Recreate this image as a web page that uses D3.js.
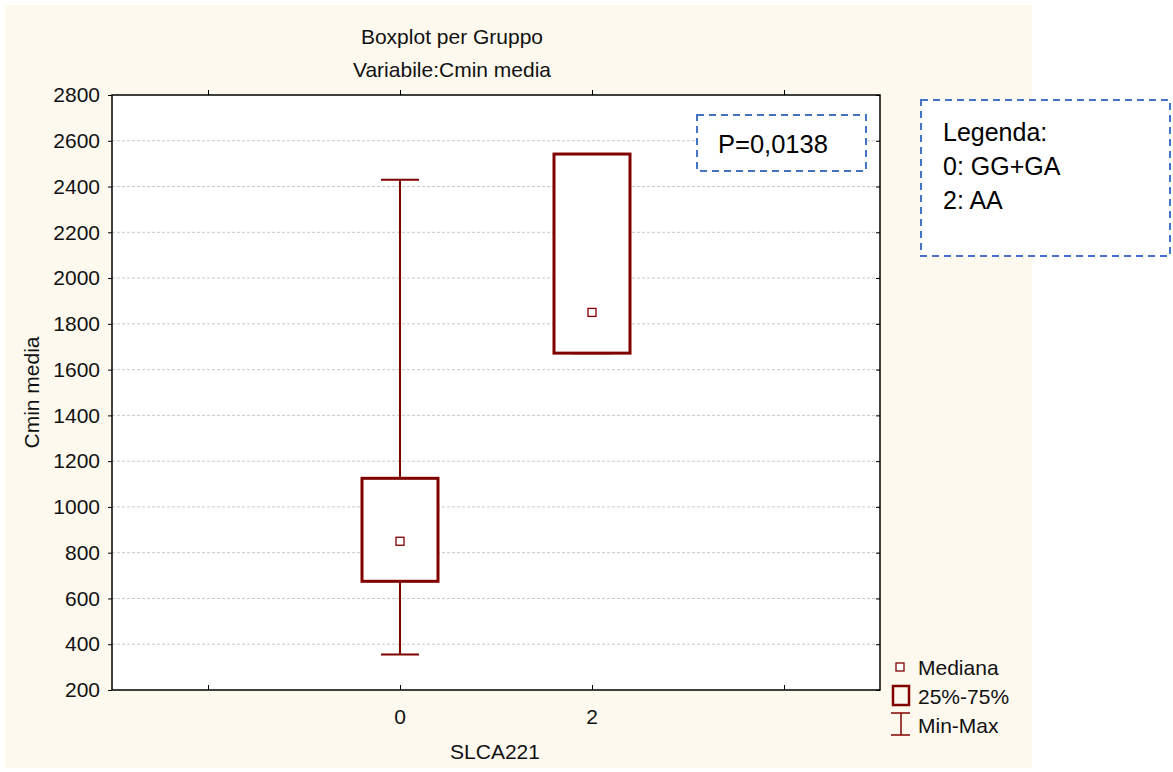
<!DOCTYPE html>
<html>
<head>
<meta charset="utf-8">
<script src="https://cdnjs.cloudflare.com/ajax/libs/d3/7.8.5/d3.min.js"></script>
<style>
  body { margin: 0; background: #fff; }
  svg text { font-family: "Liberation Sans", Arial, sans-serif; }
</style>
</head>
<body>
<svg></svg>
<script>
var width = 1173;
var height = 772;

// data
var groups = ["0", "2"];
var mins = [355, 1672];
var q1s = [675, 1672];
var medians = [850, 1850];
var q3s = [1125, 2542];
var maxs = [2430, 2542];
var yTicks = [200, 400, 600, 800, 1000, 1200, 1400, 1600, 1800, 2000, 2200, 2400, 2600, 2800];
var xSlots = ["a", "0", "2", "b"];
var legendLines = ["Legenda:", "0: GG+GA", "2: AA"];
var keyLabels = ["Mediana", "25%-75%", "Min-Max"];
var pText = "P=0,0138";

var red = "#800000";
var blue = "#4472C4";
var fs = 21;

var svg = d3.select('svg')
            .attr('width', width)
            .attr('height', height);

svg.append("rect")
   .attr("x", 5).attr("y", 5)
   .attr("width", 1027).attr("height", 763)
   .attr("fill", "#fef9ef");

var pLeft = 112, pRight = 880, pTop = 95, pBottom = 690;

svg.append("rect")
   .attr("x", pLeft).attr("y", pTop)
   .attr("width", pRight - pLeft).attr("height", pBottom - pTop)
   .attr("fill", "#fff");

var y = d3.scaleLinear().domain([200, 2800]).range([pBottom, pTop]);
var x = d3.scalePoint().domain(xSlots).range([pLeft, pRight]).padding(0.5);

// grid
svg.append("g")
   .selectAll("line")
   .data(yTicks.slice(1, -1))
   .enter()
   .append("line")
   .attr("x1", pLeft).attr("x2", pRight)
   .attr("y1", d => y(d)).attr("y2", d => y(d))
   .attr("stroke", "#c8c8c8")
   .attr("stroke-dasharray", "3,2")
   .attr("stroke-width", 1);

// axes
var yAxis = d3.axisLeft(y).tickValues(yTicks).tickSize(4).tickPadding(8).tickFormat(d3.format("d"));
var gy = svg.append("g").attr("transform", "translate(" + pLeft + ",0)").call(yAxis);
gy.select(".domain").remove();
gy.selectAll("text").attr("font-size", fs).attr("fill", "#111").attr("font-family", "Liberation Sans, Arial");
gy.selectAll("line").attr("stroke", "#000");

var yAxisR = d3.axisLeft(y).tickValues(yTicks).tickSize(4).tickFormat("");
var gyr = svg.append("g").attr("transform", "translate(" + pRight + ",0)").call(yAxisR);
gyr.select(".domain").remove();

var xAxis = d3.axisTop(x).tickSize(5).tickFormat("");
var gx = svg.append("g").attr("transform", "translate(0," + pBottom + ")").call(xAxis);
gx.select(".domain").remove();
var xAxisT = d3.axisTop(x).tickSize(5).tickFormat("");
var gxt = svg.append("g").attr("transform", "translate(0," + pTop + ")").call(xAxisT);
gxt.select(".domain").remove();

svg.append("g")
   .selectAll("text")
   .data(groups)
   .enter()
   .append("text")
   .attr("x", d => x(d))
   .attr("y", pBottom + 34)
   .attr("text-anchor", "middle")
   .attr("font-size", fs)
   .attr("fill", "#111")
   .text(d => d);

svg.append("rect")
   .attr("x", pLeft).attr("y", pTop)
   .attr("width", pRight - pLeft).attr("height", pBottom - pTop)
   .attr("fill", "none")
   .attr("stroke", "#000")
   .attr("stroke-width", 1.5);

// titles
svg.append("text").attr("x", 452).attr("y", 44).attr("text-anchor", "middle")
   .attr("font-size", fs).attr("fill", "#111").text("Boxplot per Gruppo");
svg.append("text").attr("x", 452).attr("y", 77).attr("text-anchor", "middle")
   .attr("font-size", fs).attr("fill", "#111").text("Variabile:Cmin media");
svg.append("text").attr("x", 495).attr("y", 759).attr("text-anchor", "middle")
   .attr("font-size", fs).attr("fill", "#111").text("SLCA221");
svg.append("text")
   .attr("transform", "translate(39," + ((pTop + pBottom) / 2) + ") rotate(-90)")
   .attr("text-anchor", "middle")
   .attr("font-size", fs).attr("fill", "#111").text("Cmin media");

// boxes
var boxW = 76, capW = 38;
var boxes = svg.append("g")
   .selectAll("g")
   .data(groups)
   .enter()
   .append("g");

boxes.append("line")
   .attr("x1", d => x(d)).attr("x2", d => x(d))
   .attr("y1", (d, i) => y(maxs[i])).attr("y2", (d, i) => y(q3s[i]))
   .attr("stroke", red).attr("stroke-width", 2);
boxes.append("line")
   .attr("x1", d => x(d)).attr("x2", d => x(d))
   .attr("y1", (d, i) => y(q1s[i])).attr("y2", (d, i) => y(mins[i]))
   .attr("stroke", red).attr("stroke-width", 2);
boxes.append("line")
   .attr("x1", d => x(d) - capW / 2).attr("x2", d => x(d) + capW / 2)
   .attr("y1", (d, i) => y(maxs[i])).attr("y2", (d, i) => y(maxs[i]))
   .attr("stroke", red).attr("stroke-width", 2);
boxes.append("line")
   .attr("x1", d => x(d) - capW / 2).attr("x2", d => x(d) + capW / 2)
   .attr("y1", (d, i) => y(mins[i])).attr("y2", (d, i) => y(mins[i]))
   .attr("stroke", red).attr("stroke-width", 2);
boxes.append("rect")
   .attr("x", d => x(d) - boxW / 2)
   .attr("y", (d, i) => y(q3s[i]))
   .attr("width", boxW)
   .attr("height", (d, i) => y(q1s[i]) - y(q3s[i]))
   .attr("fill", "#fff")
   .attr("stroke", red).attr("stroke-width", 3);
boxes.append("rect")
   .attr("x", d => x(d) - 4)
   .attr("y", (d, i) => y(medians[i]) - 4)
   .attr("width", 8).attr("height", 8)
   .attr("fill", "#fff")
   .attr("stroke", red).attr("stroke-width", 1.3);

// bottom-right key
var key = svg.append("g");
key.append("rect").attr("x", 896).attr("y", 663).attr("width", 8).attr("height", 8)
   .attr("fill", "#fff").attr("stroke", red).attr("stroke-width", 1.3);
key.append("rect").attr("x", 893).attr("y", 686).attr("width", 16).attr("height", 19)
   .attr("fill", "none").attr("stroke", red).attr("stroke-width", 2.5);
key.append("line").attr("x1", 901).attr("x2", 901).attr("y1", 713).attr("y2", 735)
   .attr("stroke", red).attr("stroke-width", 1.5);
key.append("line").attr("x1", 891).attr("x2", 910).attr("y1", 713).attr("y2", 713)
   .attr("stroke", red).attr("stroke-width", 1.5);
key.append("line").attr("x1", 891).attr("x2", 910).attr("y1", 735).attr("y2", 735)
   .attr("stroke", red).attr("stroke-width", 1.5);
key.selectAll("text")
   .data(keyLabels)
   .enter()
   .append("text")
   .attr("x", 918)
   .attr("y", (d, i) => 675 + i * 29)
   .attr("font-size", fs).attr("fill", "#111")
   .text(d => d);

// P value box
svg.append("rect")
   .attr("x", 697).attr("y", 115).attr("width", 169).attr("height", 56)
   .attr("fill", "#fff").attr("stroke", blue).attr("stroke-width", 2)
   .attr("stroke-dasharray", "7,5");
svg.append("text").attr("x", 718).attr("y", 153)
   .attr("font-family", "Lato, 'Open Sans', sans-serif")
   .attr("font-size", 25.5).attr("fill", "#000").text(pText);

// legend box
svg.append("rect")
   .attr("x", 921).attr("y", 100).attr("width", 249).attr("height", 156)
   .attr("fill", "#fff").attr("stroke", blue).attr("stroke-width", 2)
   .attr("stroke-dasharray", "7,5");
svg.append("g")
   .selectAll("text")
   .data(legendLines)
   .enter()
   .append("text")
   .attr("x", 943)
   .attr("y", (d, i) => 141 + i * 34)
   .attr("font-family", "Lato, 'Open Sans', sans-serif")
   .attr("font-size", 25).attr("fill", "#000")
   .text(d => d);
</script>
</body>
</html>
